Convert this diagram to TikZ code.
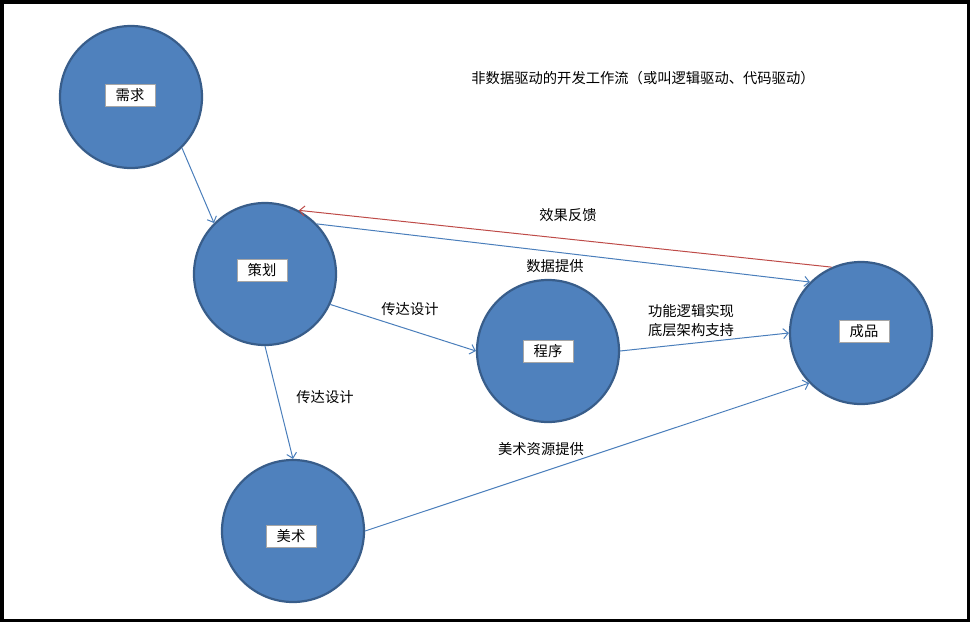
\documentclass[tikz,border=0pt]{standalone}
\usepackage{fontspec}
\setmainfont{Noto Sans CJK SC}
\usepackage{xcolor}
\usepackage{tikz}
\usetikzlibrary{positioning, calc, arrows.meta}
\definecolor{stageblue}{HTML}{4F81BD}
\definecolor{stageedge}{HTML}{385D8A}
\definecolor{flowblue}{HTML}{4A7EBB}
\definecolor{backred}{HTML}{BE4B48}

\begin{document}
\begin{tikzpicture}[x=1pt, y=-1pt, >={Straight Barb[length=5pt, width=10pt]},
		every node/.style={font=\fontsize{14.3pt}{19pt}\selectfont},
		stage/.style={circle, fill=stageblue, draw=stageedge, line width=2.2pt, minimum size=142pt, inner sep=0pt},
		tag/.style={fill=white, draw=black!35, line width=0.8pt, minimum width=50pt, minimum height=22pt, inner sep=0pt},
		flow/.style={->, flowblue, line width=1pt},
		feedback/.style={->, backred, line width=1pt}]
		\useasboundingbox (0,0) rectangle (970,622);
		\draw [line width=3.5pt] (1.75,1.75) rectangle (968.25,620.25);
		
		\node[stage] (xuqiu) at (131,97) {};
		\node[stage] (cehua) at (265,274) {};
		\node[stage] (chengxu) at (548,351) {};
		\node[stage] (chengpin) at (861,333) {};
		\node[stage] (meishu) at (293,531) {};
		
		\node[tag] (xuqiu-t) at (130,95) {需求};
		\node[tag] (cehua-t) at (262,270) {策划};
		\node[tag] (chengxu-t) at (548,351) {程序};
		\node[tag] (chengpin-t) at (864,331) {成品};
		\node[tag] (meishu-t) at (291,536) {美术};
		
		\node (title) at (643,78) {非数据驱动的开发工作流（或叫逻辑驱动、代码驱动）};
		
		\draw [flow] (xuqiu.-45) -- (cehua.135);
		\draw [flow] (cehua.44) -- (chengpin.135);
		\draw [feedback] (chengpin.114) -- (cehua.62);
		\draw [flow] (cehua.-25) -- (chengxu.west);
		\draw [flow] (cehua.south) -- (meishu.north);
		\draw [flow] (chengxu.east) -- (chengpin.west);
		\draw [flow] (meishu.east) -- (chengpin.-136);
		
		\node (fankui) at (568,215) {效果反馈};
		\node (shuju) at (555,266) {数据提供};
		\node (chuanda-a) at (410,309) {传达设计};
		\node[align=center] (gongneng) at (691,321) {功能逻辑实现\\底层架构支持};
		\node (chuanda-b) at (325,397) {传达设计};
		\node (ziyuan) at (541,449) {美术资源提供};
\end{tikzpicture}
\end{document}
